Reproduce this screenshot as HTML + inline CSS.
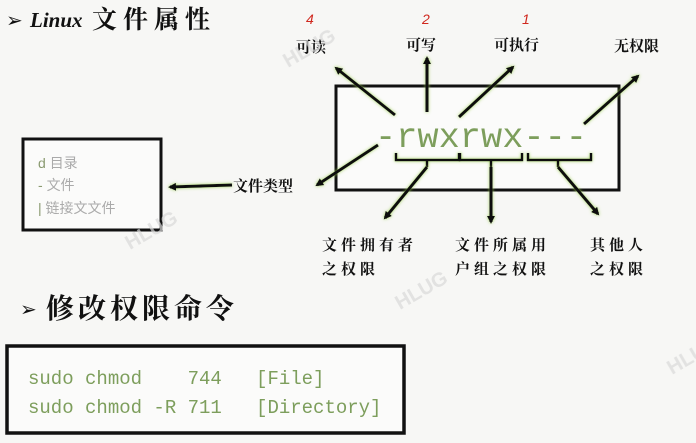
<!DOCTYPE html>
<html><head><meta charset="utf-8"><style>
html,body{margin:0;padding:0;background:#f7f7f5;}
svg{display:block}
.cj{font-family:"Liberation Serif","Noto Serif CJK SC",serif;font-weight:bold;fill:#111}
.mono{font-family:"Liberation Mono",monospace;fill:#7d9e5c}
</style></head><body>
<svg width="696" height="443" viewBox="0 0 696 443" xmlns="http://www.w3.org/2000/svg">
<defs>
<marker id="a" markerWidth="8" markerHeight="8" refX="6" refY="4" orient="auto" markerUnits="userSpaceOnUse"><path d="M0,0 L8,4 L0,8 Z" fill="#111"/></marker>
<filter id="g" x="-20%" y="-20%" width="140%" height="140%"><feDropShadow dx="0" dy="0" stdDeviation="1.5" flood-color="#9acd50" flood-opacity="0.9"/></filter>
</defs>
<rect width="696" height="443" fill="#f7f7f5"/>
<!-- titles -->
<text x="6" y="27" font-size="20" fill="#111" font-family="DejaVu Sans">➢</text>
<text x="30" y="27" font-size="21" font-style="italic" class="cj" font-family="Liberation Serif">Linux</text>
<text x="92" y="28" font-size="25" class="cj" letter-spacing="6">文件属性</text>
<text x="20" y="316" font-size="20" fill="#111" font-family="DejaVu Sans">➢</text>
<text x="46" y="318" font-size="28" class="cj" letter-spacing="4">修改权限命令</text>
<!-- left box -->
<rect x="23" y="139" width="138" height="91" fill="#fbfbfa" stroke="#111" stroke-width="3"/>
<text x="38" y="168" font-size="14" fill="#8a9a70" font-family="Liberation Sans,Noto Sans CJK SC,sans-serif">d  <tspan fill="#aaa">目录</tspan></text>
<text x="38" y="190" font-size="14" fill="#8a9a70" font-family="Liberation Sans,Noto Sans CJK SC,sans-serif">-  <tspan fill="#aaa">文件</tspan></text>
<text x="38" y="213" font-size="14" fill="#8a9a70" font-family="Liberation Sans,Noto Sans CJK SC,sans-serif">|  <tspan fill="#aaa">链接文文件</tspan></text>
<!-- main box -->
<rect x="336" y="86" width="283" height="104" fill="#fbfbfa" stroke="#111" stroke-width="3"/>
<text x="375" y="147" font-size="35" class="mono" textLength="212" lengthAdjust="spacingAndGlyphs">-rwxrwx---</text>
<!-- braces -->
<g fill="none" stroke="#111" stroke-width="2.5" filter="url(#g)">
<path d="M396,153 V160 H459 V153 M427,160 V167"/>
<path d="M460,153 V160 H522 V153 M491,160 V167"/>
<path d="M528,153 V160 H591 V153 M558,160 V167"/>
</g>
<!-- arrows -->
<g stroke="#111" stroke-width="3" marker-end="url(#a)" filter="url(#g)">
<line x1="395" y1="115" x2="336" y2="68"/>
<line x1="427" y1="112" x2="427" y2="58"/>
<line x1="459" y1="117" x2="513" y2="67"/>
<line x1="584" y1="124" x2="638" y2="76"/>
<line x1="378" y1="145" x2="317" y2="185"/>
<line x1="232" y1="185" x2="170" y2="187"/>
<line x1="427" y1="167" x2="385" y2="218"/>
<line x1="491" y1="167" x2="491" y2="222"/>
<line x1="558" y1="167" x2="598" y2="214"/>
</g>
<!-- labels -->
<g class="cj" font-size="15">
<text x="296" y="52">可读</text>
<text x="406" y="50">可写</text>
<text x="494" y="50">可执行</text>
<text x="614" y="51">无权限</text>
<text x="233" y="191">文件类型</text>
<text x="322" y="250" letter-spacing="4">文件拥有者</text>
<text x="322" y="274" letter-spacing="4">之权限</text>
<text x="455" y="250" letter-spacing="4">文件所属用</text>
<text x="455" y="274" letter-spacing="4">户组之权限</text>
<text x="590" y="250" letter-spacing="4">其他人</text>
<text x="590" y="274" letter-spacing="4">之权限</text>
</g>
<g fill="#d0281e" font-size="14" font-style="italic" font-family="Liberation Sans,sans-serif">
<text x="306" y="24">4</text>
<text x="422" y="24">2</text>
<text x="522" y="24">1</text>
</g>
<!-- bottom box -->
<rect x="7" y="346" width="397" height="87" fill="#fbfbfa" stroke="#111" stroke-width="3.5"/>
<text x="28" y="384" font-size="19" class="mono" xml:space="preserve">sudo chmod    744   [File]</text>
<text x="28" y="413" font-size="19" class="mono" xml:space="preserve">sudo chmod -R 711   [Directory]</text>
<!-- watermarks -->
<g fill="#d8d8d8" font-family="Liberation Sans,sans-serif" font-weight="bold" font-size="20" opacity="0.7">
<text transform="translate(288,68) rotate(-30)">HLUG</text>
<text transform="translate(130,250) rotate(-30)">HLUG</text>
<text transform="translate(400,310) rotate(-30)">HLUG</text>
<text transform="translate(672,375) rotate(-30)">HLUG</text>
</g>
</svg>
</body></html>
